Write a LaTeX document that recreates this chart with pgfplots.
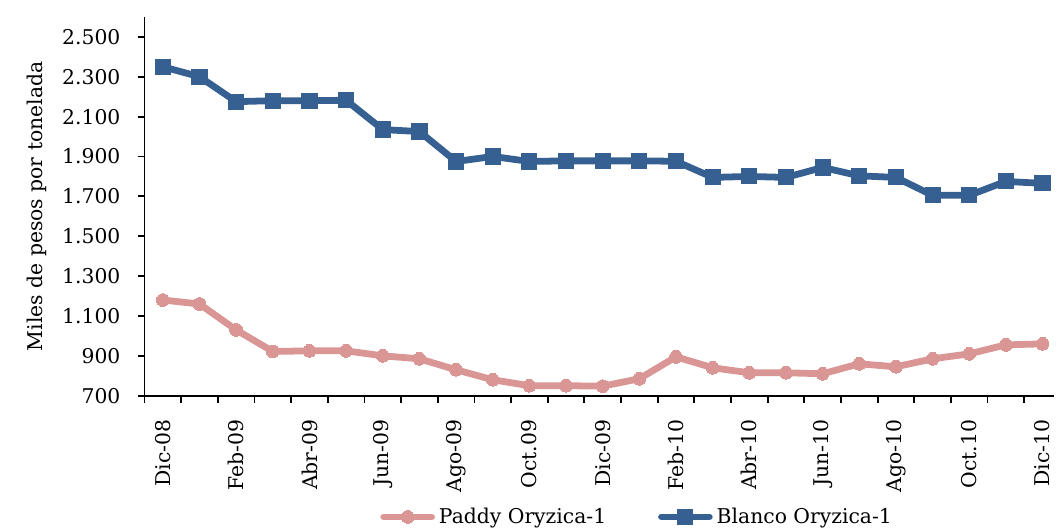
\documentclass[border=0pt]{standalone}
\usepackage{fontspec}
\setmainfont{DejaVu Serif}
\usepackage{pgfplots}
\pgfplotsset{compat=1.18}
\definecolor{cblue}{HTML}{376092}
\definecolor{cpink}{HTML}{D99694}
\newcommand{\fs}{\fontsize{10.2}{12}\selectfont}
\begin{document}
\fs
\begin{tikzpicture}
\begin{axis}[
  at={(72.5pt,66pt)}, anchor=south west,
  scale only axis, width=456pt, height=190pt,
  xmin=-0.5, xmax=24.3, ymin=700, ymax=2600,
  axis x line=bottom, axis y line=left,
  axis line style={line width=0.9pt,-},
  xtick={0,2,...,24},
  xticklabels={Dic-08,Feb-09,Abr-09,Jun-09,Ago-09,Oct.09,Dic-09,Feb-10,Abr-10,Jun-10,Ago-10,Oct.10,Dic-10},
  x tick label style={rotate=90, anchor=east, font=\fs, xshift=-5pt},
  major x tick style={draw=none},
  minor xtick={-0.5,0.5,...,23.5},
  minor x tick style={line width=0.9pt, black},
  minor tick length=3.5pt,
  ytick={700,900,...,2500},
  y tick style={line width=0.9pt, black},
  major tick length=3.5pt,
  tick align=outside,
  y tick label style={font=\fs, xshift=-5pt},
  /pgf/number format/.cd, 1000 sep={.}, assume math mode=true, /pgfplots/.cd,
  ylabel={Miles de pesos por tonelada},
  ylabel style={font=\fs},
  ylabel shift=1pt,
  legend columns=2,
  legend style={at={(0.543,-0.32)}, anchor=center, draw=none, fill=none,
    font=\fs, inner sep=0pt,
    /tikz/every even column/.append style={column sep=24pt}},
  legend image code/.code={
    \draw[#1, line cap=round] (0pt,0pt) -- (24pt,0pt);
    \path[#1, only marks] plot coordinates {(12pt,0pt)};
  },
  clip=false,
]
\addplot[cpink, line width=3.4pt, line join=round, line cap=round, mark=*, mark size=3.2pt, mark options={fill=cpink, draw=cpink, line width=0pt}] coordinates {
(0,1180) (1,1160) (2,1030) (3,922) (4,925) (5,925) (6,900) (7,885) (8,830) (9,780) (10,750) (11,750) (12,748) (13,785) (14,895) (15,840) (16,815) (17,815) (18,810) (19,860) (20,845) (21,885) (22,910) (23,955) (24,960)
};
\addlegendentry{Paddy Oryzica-1}
\addplot[cblue, line width=3.4pt, line join=round, line cap=round, mark=square*, mark size=3.8pt, mark options={fill=cblue, draw=cblue, line width=0pt}] coordinates {
(0,2350) (1,2300) (2,2175) (3,2180) (4,2180) (5,2182) (6,2035) (7,2025) (8,1875) (9,1900) (10,1875) (11,1878) (12,1878) (13,1878) (14,1876) (15,1795) (16,1800) (17,1795) (18,1845) (19,1803) (20,1795) (21,1705) (22,1705) (23,1775) (24,1765)
};
\addlegendentry{Blanco Oryzica-1}
\end{axis}
\useasboundingbox (0,0) rectangle (528.5pt,264.5pt);
\end{tikzpicture}
\end{document}
